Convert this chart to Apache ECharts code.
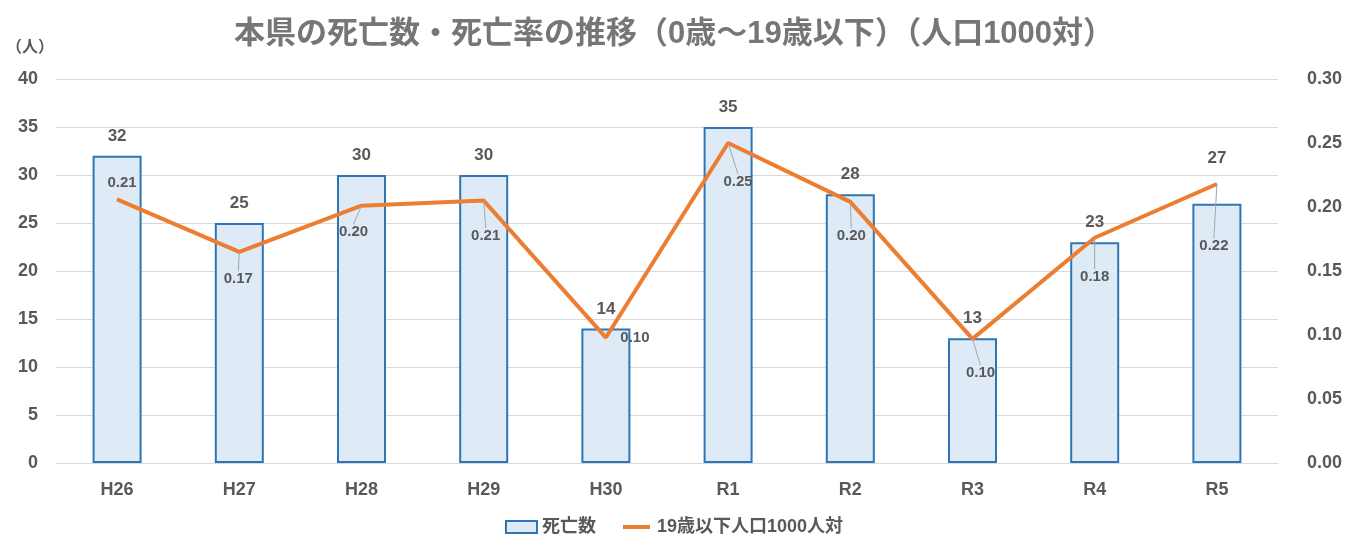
<!DOCTYPE html>
<html>
<head>
<meta charset="utf-8">
<script src="https://cdn.jsdelivr.net/npm/echarts@6/dist/echarts.min.js"></script>
<style>
html,body{margin:0;padding:0;background:#fff;}
#chart{width:1348px;height:536px;}
</style>
</head>
<body>
<div id="chart"></div>
<script>
const categories = ['H26','H27','H28','H29','H30','R1','R2','R3','R4','R5'];
const deaths = [32, 25, 30, 30, 14, 35, 28, 13, 23, 27];
const rates = [0.206, 0.165, 0.201, 0.205, 0.098, 0.250, 0.204, 0.097, 0.176, 0.218];
const leftTicks = {min: 0, max: 40, interval: 5};
const rightTicks = {min: 0, max: 0.30, interval: 0.05};

// label placement (style only)
const rateLabelOffsets = [[5,-16],[-1,27],[-8,26],[2,35],[29,0],[10,39],[1,34],[8,34],[0,39],[-3,62]];
const rateLeader = [false, true, true, true, false, true, true, true, true, true];
const barLabelDistance = [11, 11, 11, 11, 11, 11, 11, 11, 11, 37];

const FONT = "'Liberation Sans', 'Noto Sans CJK JP', sans-serif";
const GRAY = '#595959';

const chart = echarts.init(document.getElementById('chart'), null, {renderer: 'canvas'});
chart.setOption({
  animation: false,
  backgroundColor: '#fff',
  title: {
    text: '本県の死亡数・死亡率の推移（0歳～19歳以下）（人口1000対）',
    left: 'center',
    top: 14,
    textStyle: {fontFamily: FONT, fontSize: 31, fontWeight: 'bold', color: '#767676'}
  },
  graphic: [{
    type: 'text', left: 6, top: 40,
    style: {text: '（人）', font: "bold 16px " + FONT, fill: GRAY}
  }],
  legend: {
    bottom: 0,
    left: 'center',
    padding: 0,
    itemWidth: 31,
    itemHeight: 12,
    itemGap: 25,
    textStyle: {fontFamily: FONT, fontSize: 18, fontWeight: 'bold', color: GRAY},
    data: [
      {name: '死亡数', icon: 'rect'},
      {name: '19歳以下人口1000人対',
       icon: 'path://M0,0 L0,0 M2,4 L29,4 L29,8 L2,8 Z M31,12 L31,12',
       itemStyle: {color: '#ED7D31', borderWidth: 0}}
    ]
  },
  grid: {left: 56, right: 70, top: 79, bottom: 73, containLabel: false},
  xAxis: {
    type: 'category',
    data: categories,
    axisLine: {show: true, lineStyle: {color: '#d9d9d9', width: 1}},
    axisTick: {show: false},
    axisLabel: {fontFamily: FONT, fontSize: 18, fontWeight: 'bold', color: GRAY, margin: 18}
  },
  yAxis: [
    {
      type: 'value',
      min: leftTicks.min, max: leftTicks.max, interval: leftTicks.interval,
      axisLine: {show: false}, axisTick: {show: false},
      splitLine: {lineStyle: {color: '#d9d9d9', width: 1}},
      axisLabel: {fontFamily: FONT, fontSize: 18, fontWeight: 'bold', color: GRAY, margin: 18}
    },
    {
      type: 'value',
      min: rightTicks.min, max: rightTicks.max, interval: rightTicks.interval,
      axisLine: {show: false}, axisTick: {show: false},
      splitLine: {show: false},
      axisLabel: {fontFamily: FONT, fontSize: 18, fontWeight: 'bold', color: GRAY, margin: 29,
        formatter: v => v.toFixed(2)}
    }
  ],
  series: [
    {
      name: '死亡数',
      type: 'bar',
      data: deaths.map((v, i) => ({value: v, label: {distance: barLabelDistance[i]}})),
      barWidth: 49,
      itemStyle: {color: '#DEEBF7', borderColor: '#2E75B6', borderWidth: 2},
      label: {show: true, position: 'top', distance: 11,
        fontFamily: FONT, fontSize: 17, fontWeight: 'bold', color: GRAY}
    },
    {
      name: '19歳以下人口1000人対',
      type: 'line',
      yAxisIndex: 1,
      data: rates.map((v, i) => ({value: v, labelLine: {show: rateLeader[i]}})),
      symbol: 'circle',
      symbolSize: 1,
      itemStyle: {color: '#ED7D31'},
      lineStyle: {color: '#ED7D31', width: 4},
      z: 5,
      label: {show: true, position: 'inside',
        fontFamily: FONT, fontSize: 15, fontWeight: 'bold', color: GRAY,
        formatter: p => (Math.round(p.value * 100) / 100).toFixed(2)},
      labelLine: {show: true, lineStyle: {color: '#a6a6a6', width: 1}},
      labelLayout: function (params) {
        const o = rateLabelOffsets[params.dataIndex];
        const cx = params.rect.x + params.rect.width / 2;
        const cy = params.rect.y + params.rect.height / 2;
        return {x: cx + o[0], y: cy + o[1], align: 'center', verticalAlign: 'middle'};
      }
    }
  ]
});
</script>
</body>
</html>
